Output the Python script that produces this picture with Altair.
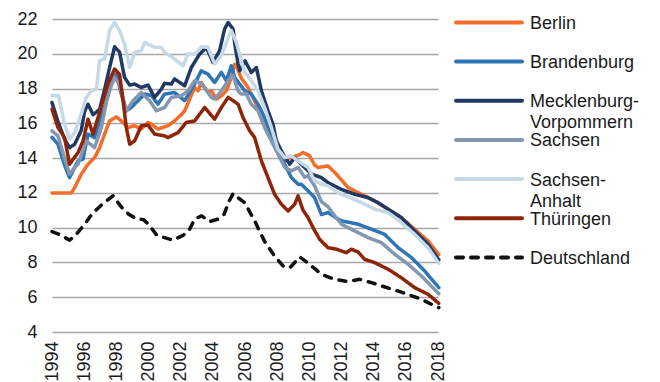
import altair as alt
import pandas as pd

names = ["Berlin", "Brandenburg", "Mecklenburg-Vorpommern", "Sachsen",
         "Sachsen-Anhalt", "Thüringen", "Deutschland"]
labels = ["Berlin", "Brandenburg", "Mecklenburg-\nVorpommern", "Sachsen",
          "Sachsen-\nAnhalt", "Thüringen", "Deutschland"]
colors = ["#F36C2A", "#2E75B6", "#1F3864", "#8497B0", "#C5D9E6", "#8E2509", "#111111"]
dashes = [[1, 0], [1, 0], [1, 0], [1, 0], [1, 0], [1, 0], [7, 8]]

berlin_t = [1994.0, 1994.6, 1995.2, 1995.41, 1995.82, 1996.24, 1996.65, 1996.96, 1997.27, 1997.58,
            1998.0, 1998.31, 1998.73, 1999.14, 1999.55, 1999.97, 2000.18, 2000.59, 2001.0, 2001.21,
            2001.62, 2002.04, 2002.25, 2002.56, 2002.87, 2003.08, 2003.28, 2003.7, 2003.91, 2004.22,
            2004.53, 2004.84, 2005.15, 2005.36, 2005.46, 2005.77, 2006.19, 2006.39, 2006.81, 2007.33,
            2007.84, 2008.37, 2008.88, 2009.4, 2009.61, 2010.02, 2010.33, 2010.54, 2011.16, 2011.68,
            2011.99, 2012.41, 2012.61, 2013.24, 2014.06, 2014.9, 2015.72, 2016.55, 2017.38, 2018.05]
berlin_v = [12.0, 12.0, 12.0, 12.3, 13.08, 13.65, 14.03, 14.6, 15.38, 16.14,
            16.37, 16.14, 15.76, 15.86, 15.67, 16.05, 15.95, 15.67, 15.8, 15.86,
            16.14, 16.5, 16.72, 17.4, 18.06, 17.87, 18.35, 17.77, 17.87, 17.4,
            17.58, 17.87, 18.64, 19.4, 19.3, 18.6, 18.06, 17.68, 16.91, 15.95,
            14.99, 13.84, 14.03, 14.2, 14.32, 14.13, 13.6, 13.46, 13.55, 13.08,
            12.75, 12.3, 12.21, 11.92, 11.54, 11.06, 10.58, 9.91, 9.24, 8.45]

brandenburg_t = [1994.0, 1994.37, 1994.78, 1995.09, 1995.62, 1995.93, 1996.24, 1996.65, 1996.96, 1997.27,
                 1997.69, 1998.0, 1998.31, 1998.62, 1998.93, 1999.35, 1999.76, 2000.18, 2000.59, 2001.0,
                 2001.62, 2002.25, 2002.87, 2003.28, 2003.7, 2004.11, 2004.53, 2004.84, 2005.15, 2005.36,
                 2005.67, 2005.98, 2006.39, 2006.81, 2007.22, 2007.64, 2008.05, 2008.47, 2008.88, 2009.3,
                 2009.5, 2009.92, 2010.33, 2010.75, 2011.16, 2011.78, 2012.0, 2013.03, 2013.86, 2014.68,
                 2015.52, 2016.35, 2017.17, 2018.05]
brandenburg_v = [15.2, 14.8, 13.6, 12.88, 13.84, 13.94, 15.38, 15.18, 16.14, 16.91,
                 18.26, 18.83, 17.68, 16.72, 16.91, 17.3, 17.68, 17.6, 17.1, 17.68,
                 17.77, 17.3, 18.26, 19.02, 18.83, 18.35, 18.93, 18.45, 19.31, 18.64,
                 18.26, 17.87, 17.68, 17.1, 16.33, 15.38, 14.6, 13.65, 12.88, 12.5,
                 12.5, 12.12, 11.73, 10.75, 10.87, 10.5, 10.39, 10.2, 9.91, 9.62,
                 8.85, 8.28, 7.51, 6.55]

mv_t = [1994.0, 1994.37, 1994.78, 1995.09, 1995.41, 1995.82, 1996.03, 1996.24, 1996.55, 1996.96,
        1997.27, 1997.58, 1997.89, 1998.2, 1998.51, 1998.83, 1999.14, 1999.55, 1999.97, 2000.38,
        2000.8, 2001.0, 2001.42, 2001.62, 2002.25, 2002.66, 2003.18, 2003.6, 2004.01, 2004.42,
        2004.73, 2004.95, 2005.26, 2005.36, 2005.57, 2005.67, 2006.0, 2006.39, 2006.71, 2007.02,
        2007.43, 2007.74, 2007.95, 2008.37, 2008.78, 2009.09, 2009.5, 2010.13, 2010.75, 2011.16,
        2011.99, 2012.82, 2013.65, 2014.27, 2014.9, 2015.72, 2016.55, 2017.38, 2018.05]
mv_v = [17.2, 16.1, 15.1, 14.6, 14.8, 15.6, 16.7, 17.1, 16.5, 16.8,
        17.95, 19.2, 20.4, 20.1, 18.64, 18.2, 18.26, 18.06, 18.2, 17.49,
        17.97, 18.3, 18.26, 18.55, 18.16, 19.21, 19.98, 20.37, 19.5, 20.18,
        21.42, 21.8, 21.42, 20.6, 19.41, 19.02, 19.6, 18.93, 19.21, 17.87,
        16.72, 15.95, 14.99, 14.23, 13.65, 14.03, 13.65, 13.08, 12.88, 12.59,
        12.2, 11.92, 11.73, 11.44, 11.06, 10.58, 9.81, 9.05, 8.15]

sachsen_t = [1994.0, 1994.37, 1994.78, 1995.09, 1995.41, 1995.62, 1996.13, 1996.65, 1997.07, 1997.48,
             1997.89, 1998.2, 1998.62, 1999.04, 1999.55, 2000.07, 2000.49, 2001.0, 2001.42, 2002.04,
             2002.46, 2002.87, 2003.28, 2003.91, 2004.11, 2004.53, 2004.95, 2005.26, 2005.57, 2005.77,
             2006.08, 2006.39, 2006.81, 2007.22, 2007.64, 2008.05, 2008.47, 2008.88, 2009.3, 2009.71,
             2009.92, 2010.33, 2010.75, 2011.16, 2011.57, 2011.99, 2012.82, 2013.65, 2014.48, 2015.31,
             2016.14, 2016.97, 2018.05]
sachsen_v = [15.57, 15.28, 14.0, 13.08, 13.46, 13.65, 14.99, 14.6, 15.76, 17.68,
             18.64, 18.26, 16.72, 17.3, 17.77, 17.3, 16.72, 16.91, 17.49, 17.58,
             17.87, 18.45, 18.3, 17.49, 17.4, 17.87, 18.45, 18.74, 17.87, 17.68,
             17.7, 17.1, 16.72, 15.76, 14.99, 14.23, 13.46, 13.27, 13.46, 12.9,
             12.98, 12.4, 11.5, 11.2, 10.7, 10.2, 9.81, 9.43, 9.14, 8.47,
             7.9, 7.22, 6.2]

sa_t = [1994.0, 1994.4, 1994.78, 1995.09, 1995.41, 1995.82, 1996.13, 1996.44, 1996.76, 1996.96,
        1997.27, 1997.58, 1997.89, 1998.2, 1998.51, 1998.83, 1999.14, 1999.55, 1999.76, 2000.38,
        2000.8, 2001.0, 2001.62, 2002.15, 2002.46, 2002.87, 2003.28, 2003.7, 2004.11, 2004.53,
        2004.95, 2005.15, 2005.46, 2005.77, 2005.98, 2006.39, 2006.81, 2007.22, 2007.64, 2008.05,
        2008.47, 2008.88, 2009.3, 2009.92, 2010.33, 2010.75, 2011.16, 2011.99, 2012.61, 2013.24,
        2014.06, 2014.9, 2015.72, 2016.55, 2017.38, 2018.05]
sa_v = [17.6, 17.6, 15.95, 15.1, 15.47, 16.53, 17.49, 17.87, 17.97, 19.6,
        19.7, 21.33, 21.8, 21.33, 20.56, 19.21, 20.08, 20.18, 20.65, 20.37,
        20.37, 20.08, 19.7, 19.31, 20.0, 19.98, 20.4, 20.37, 19.41, 19.9,
        20.9, 21.33, 20.65, 19.6, 18.93, 18.45, 17.87, 16.91, 15.76, 14.52,
        14.03, 14.13, 13.84, 13.46, 12.69, 12.5, 12.4, 11.9, 11.7, 11.44,
        11.06, 10.87, 10.29, 9.62, 8.85, 7.95]

th_t = [1994.0, 1994.37, 1994.78, 1995.09, 1995.62, 1995.93, 1996.24, 1996.55, 1996.86, 1997.17,
        1997.48, 1997.89, 1998.2, 1998.42, 1998.62, 1998.83, 1999.14, 1999.55, 1999.97, 2000.38,
        2001.0, 2001.21, 2001.84, 2002.35, 2002.87, 2003.49, 2004.11, 2004.53, 2004.95, 2005.26,
        2005.57, 2005.88, 2006.29, 2006.6, 2007.02, 2007.43, 2007.84, 2008.26, 2008.68, 2009.09,
        2009.3, 2009.61, 2009.92, 2010.23, 2010.64, 2011.16, 2011.68, 2012.3, 2012.61, 2013.03,
        2013.44, 2014.06, 2014.9, 2015.72, 2016.55, 2017.38, 2018.05]
th_v = [16.82, 15.76, 15.18, 13.65, 14.32, 14.99, 16.24, 15.38, 16.33, 17.3,
        18.26, 19.12, 18.83, 17.3, 15.76, 14.8, 14.99, 15.86, 15.9, 15.38,
        15.28, 15.18, 15.47, 16.05, 16.14, 16.91, 16.24, 16.91, 17.49, 17.3,
        17.1, 16.33, 15.57, 15.18, 13.84, 12.88, 11.92, 11.35, 10.96, 11.35,
        11.83, 11.0, 10.58, 10.0, 9.33, 8.85, 8.76, 8.56, 8.76, 8.6,
        8.18, 7.99, 7.61, 7.12, 6.55, 6.17, 5.65]

de_t = [1994.0, 1994.5, 1995.09, 1995.5, 1996.03, 1996.5, 1997.07, 1997.8, 1998.3, 1998.77,
        1999.2, 1999.7, 2000.0, 2000.5, 2001.0, 2001.5, 2002.15, 2002.5, 2002.87, 2003.3,
        2003.8, 2004.3, 2004.7, 2005.0, 2005.26, 2005.6, 2005.98, 2006.6, 2007.2, 2007.84,
        2008.36, 2008.8, 2009.4, 2010.0, 2010.75, 2011.57, 2012.4, 2013.13, 2013.86, 2014.7,
        2015.5, 2016.1, 2016.97, 2017.8, 2018.05]
de_v = [9.77, 9.6, 9.28, 9.6, 10.2, 10.8, 11.3, 11.83, 11.2, 10.77,
        10.54, 10.45, 10.2, 9.58, 9.43, 9.28, 9.56, 9.81, 10.49, 10.68,
        10.35, 10.49, 10.77, 11.5, 11.96, 11.7, 11.44, 10.39, 9.24, 8.37,
        7.8, 7.7, 8.32, 7.9, 7.32, 7.03, 6.9, 7.03, 6.84, 6.59,
        6.36, 6.17, 5.88, 5.5, 5.4]

series = [
    (names[0], berlin_t, berlin_v),
    (names[1], brandenburg_t, brandenburg_v),
    (names[2], mv_t, mv_v),
    (names[3], sachsen_t, sachsen_v),
    (names[4], sa_t, sa_v),
    (names[5], th_t, th_v),
    (names[6], de_t, de_v),
]

rows = []
for name, ts, vs in series:
    for t, v in zip(ts, vs):
        rows.append({"name": name, "year": t, "value": v})
df = pd.DataFrame(rows)

legend_df = pd.DataFrame({"name": names, "label": labels})

FONT = "Liberation Sans"
TEXT = "#1a1a1a"

color_scale = alt.Scale(domain=names, range=colors)
dash_scale = alt.Scale(domain=names, range=dashes)

lines = alt.Chart(df).mark_line(strokeWidth=3.5, strokeCap="round", strokeJoin="round").encode(
    x=alt.X("year:Q",
            scale=alt.Scale(domain=[1994, 2018], nice=False, zero=False),
            axis=alt.Axis(values=list(range(1994, 2019, 2)), format="d", labelAngle=270,
                          grid=False, domain=False, ticks=False, labelPadding=9,
                          labelFlush=False, labelOverlap=False, labelFontSize=18,
                          labelFont=FONT, labelColor=TEXT, title=None)),
    y=alt.Y("value:Q",
            scale=alt.Scale(domain=[4, 22], nice=False, zero=False),
            axis=alt.Axis(values=list(range(4, 23, 2)), grid=True, gridColor="#a6a6a6",
                          gridWidth=1.6, domain=False, ticks=False, labelPadding=15,
                          labelFontSize=18, labelFont=FONT, labelColor=TEXT, title=None)),
    color=alt.Color("name:N", scale=color_scale, legend=None),
    strokeDash=alt.StrokeDash("name:N", scale=dash_scale, legend=None),
)

leg_y = alt.Y("name:N", sort=names,
              scale=alt.Scale(type="point", range=[3.4, 238.4], padding=0), axis=None)

leg_rule = alt.Chart(legend_df).mark_rule(strokeWidth=4, strokeCap="round").encode(
    x=alt.value(404),
    x2=alt.value(470),
    y=leg_y,
    color=alt.Color("name:N", scale=color_scale, legend=None),
    strokeDash=alt.StrokeDash("name:N", scale=dash_scale, legend=None),
)

leg_text = alt.Chart(legend_df).mark_text(
    align="left", baseline="alphabetic", dy=6.5, fontSize=18, font=FONT,
    lineBreak="\n", lineHeight=21, color=TEXT
).encode(
    x=alt.value(478),
    y=leg_y,
    text="label:N",
)

chart = alt.layer(lines, leg_rule, leg_text).resolve_scale(y="independent").properties(
    width=386, height=313,
    padding={"left": 8, "top": 2, "right": 0, "bottom": 0},
).configure_view(stroke=None)

chart.save("out.html", embed_options={"renderer": "svg", "actions": False})
